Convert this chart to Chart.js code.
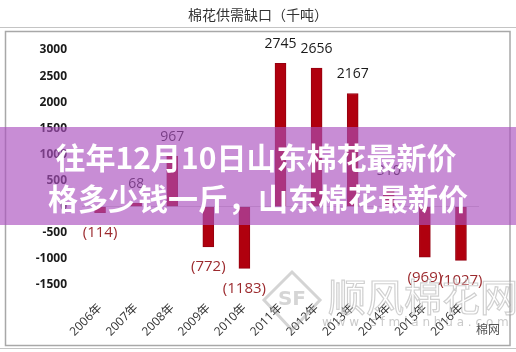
<!DOCTYPE html>
<html>
<head>
<meta charset="utf-8">
<script src="https://cdn.jsdelivr.net/npm/chart.js@4/dist/chart.umd.min.js"></script>
<style>
html,body{margin:0;padding:0;background:#fff;}
canvas{display:block;}
</style>
</head>
<body>
<canvas id="c" width="516" height="352"></canvas>
<script>
// ---- data ----
const categories = ['2006年','2007年','2008年','2009年','2010年','2011年','2012年','2013年','2014年','2015年','2016年'];
const gapValues = [-114, 68, 967, -772, -1183, 2745, 2656, 2167, 310, -969, -1027];
const yTickValues = [3000, 2500, 2000, 1500, 1000, 500, 0, -500, -1000, -1500];
const chartTitle = '棉花供需缺口（千吨）';
const headlineLines = ['往年12月10日山东棉花最新价', '格多少钱一斤，山东棉花最新价'];
const watermarkText = '顺风棉花网';
const watermarkUrl = 'www.sfmianhua.com';
const sourceText = '棉网';

const CJK = "'Noto Sans CJK SC', sans-serif";
Chart.defaults.font.family = "'Open Sans', 'Noto Sans CJK SC', sans-serif";

function fmt(v){ return v < 0 ? '(' + Math.abs(v) + ')' : String(v); }

const framePlugin = {
  id: 'frame',
  beforeDraw(chart){
    const c = chart.ctx;
    c.save();
    c.fillStyle = '#fff';
    c.fillRect(0,0,chart.width,chart.height);
    c.fillStyle = '#333';
    c.font = '14px ' + CJK;
    c.textAlign = 'center';
    c.textBaseline = 'middle';
    c.fillText(chartTitle, 258, 15);
    c.strokeStyle = '#c4c4c4';
    c.lineWidth = 1;
    c.beginPath(); c.moveTo(0, 27.5); c.lineTo(516, 27.5); c.stroke();
    c.beginPath(); c.moveTo(0, 348.5); c.lineTo(516, 348.5); c.stroke();
    c.strokeStyle = '#a8a8a8';
    c.lineWidth = 1.5;
    c.strokeRect(5.5, 31.5, 504.5, 314);
    c.restore();
  }
};

const labelPlugin = {
  id: 'valueLabels',
  afterDatasetsDraw(chart){
    const c = chart.ctx;
    const meta = chart.getDatasetMeta(0);
    c.save();
    c.textAlign = 'center';
    c.textBaseline = 'middle';
    meta.data.forEach((bar, i) => {
      const v = gapValues[i];
      if (v >= 0) {
        c.fillStyle = '#1a1a1a';
        c.font = '14px "Open Sans", sans-serif';
        c.fillText(fmt(v), bar.x, bar.y - 19);
      } else {
        c.fillStyle = '#9c2a2e';
        c.font = '15px "Open Sans", sans-serif';
        c.fillText(fmt(v), bar.x, bar.y + 20);
      }
    });
    c.restore();
  }
};

const overlayPlugin = {
  id: 'overlay',
  afterDraw(chart){
    const c = chart.ctx;
    c.save();
    // watermark
    c.font = '38px ' + CJK;
    c.textAlign = 'left';
    c.textBaseline = 'middle';
    c.lineWidth = 1.2;
    c.strokeStyle = 'rgba(150,150,150,0.45)';
    c.fillStyle = 'rgba(255,255,255,0.35)';
    c.fillText(watermarkText, 328, 297);
    c.strokeText(watermarkText, 328, 297);
    c.font = '12px "DejaVu Sans", sans-serif';
    c.fillStyle = 'rgba(150,150,150,0.5)';
    c.fillText(watermarkUrl.split('').join(' '), 322, 323);
    // SF logo diamond
    c.strokeStyle = 'rgba(160,160,160,0.45)';
    c.lineWidth = 3;
    c.beginPath();
    c.moveTo(292, 272); c.lineTo(320, 300); c.lineTo(292, 330); c.lineTo(264, 300); c.closePath();
    c.stroke();
    c.font = 'bold 20px "DejaVu Sans", sans-serif';
    c.fillStyle = 'rgba(150,150,150,0.4)';
    c.textAlign = 'center';
    c.fillText('SF', 292, 300);
    c.fillStyle = '#555';
    c.font = '12px ' + CJK;
    c.fillText(sourceText, 488, 329);
    // band
    c.fillStyle = 'rgba(170,80,190,0.65)';
    c.fillRect(0, 127, 516, 98);
    c.fillStyle = '#ffffff';
    c.font = 'bold 30px ' + CJK;
    c.textAlign = 'center';
    c.textBaseline = 'middle';
    c.fillText(headlineLines[0], 256, 158);
    c.fillText(headlineLines[1], 258, 199);
    c.restore();
  }
};

new Chart(document.getElementById('c'), {
  type: 'bar',
  data: {
    labels: categories,
    datasets: [{
      data: gapValues,
      backgroundColor: '#b0000e',
      borderColor: '#950010',
      borderWidth: 1,
      borderSkipped: false,
      barThickness: 11
    }]
  },
  options: {
    responsive: false,
    animation: false,
    devicePixelRatio: 1,
    layout: { padding: { left: 0, right: 37, top: 50, bottom: 0 } },
    plugins: { legend: { display: false }, tooltip: { enabled: false }, title: { display: false } },
    scales: {
      x: {
        grid: { display: false, drawTicks: false },
        border: { display: false },
        ticks: {
          color: '#333',
          font: { size: 12 },
          maxRotation: 45,
          minRotation: 45,
          padding: 16,
          autoSkip: false
        },
        afterFit(scale){ scale.height = 67; }
      },
      y: {
        min: -1500,
        max: 3000,
        grid: {
          drawTicks: false,
          color: (ctx) => (ctx.tick && ctx.tick.value === 0) ? '#d4d4d4' : 'rgba(0,0,0,0)',
          lineWidth: 1
        },
        border: { display: false },
        afterBuildTicks(scale){ scale.ticks = yTickValues.map(v => ({ value: v })); },
        ticks: {
          color: '#1a1a1a',
          font: { size: 12, weight: 'bold' },
          padding: 15,
          callback: (v) => String(v)
        },
        afterFit(scale){ scale.width = 82; }
      }
    }
  },
  plugins: [framePlugin, labelPlugin, overlayPlugin]
});
</script>
</body>
</html>
